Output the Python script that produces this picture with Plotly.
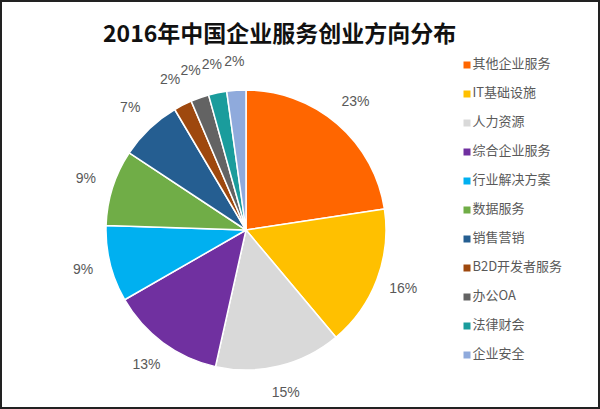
import plotly.graph_objects as go

labels = ["其他企业服务", "IT基础设施", "人力资源", "综合企业服务", "行业解决方案",
          "数据服务", "销售营销", "B2D开发者服务", "办公OA", "法律财会", "企业安全"]
values = [22.6, 16.3, 14.6, 13.2, 8.8, 8.8, 7.2, 2.1, 2.1, 2.1, 2.2]
colors = ["#FF6600", "#FFC000", "#D9D9D9", "#7030A0", "#00B0F0", "#70AD47",
          "#255E91", "#9E480E", "#636363", "#1A9C9C", "#8FAADC"]
title = "2016年中国企业服务创业方向分布"

total = sum(values)
mid_angles = []
cum = 0.0
for v in values:
    mid_angles.append((cum + v / 2) / total * 360)
    cum += v
pct_text = [f"{v / total * 100:.0f}%" for v in values]

# pie: centre (246, 230) px, radius 140 px
cx, cy, R = 246, 230, 140
pie_domain = dict(x=[(cx - R) / 600, (cx + R) / 600],
                  y=[(409 - cy - R) / 409, (409 - cy + R) / 409])
rmax = 1.25  # polar range so that r = 1 coincides with the pie edge
Rp = R * rmax
polar_domain = dict(x=[(cx - Rp) / 600, (cx + Rp) / 600],
                    y=[(409 - cy - Rp) / 409, (409 - cy + Rp) / 409])

fig = go.Figure()
fig.add_trace(go.Pie(
    labels=labels, values=values, sort=False, direction="clockwise", rotation=0,
    marker=dict(colors=colors, line=dict(color="white", width=1.5)),
    textinfo="none", domain=pie_domain,
    showlegend=False, hoverinfo="skip",
))
# data labels placed at each slice's mid-angle, just outside the pie
fig.add_trace(go.Scatterpolar(
    r=[1.2] * len(values), theta=mid_angles, mode="text", text=pct_text,
    textfont=dict(family="Liberation Sans, Arial", size=14, color="#595959"),
    showlegend=False, hoverinfo="skip", cliponaxis=False,
))
# legend drawn as a scatter on its own axes
fig.add_trace(go.Scatter(
    x=[0]*len(labels), y=labels, mode="markers+text",
    marker=dict(symbol="square", size=7, color=colors),
    text=labels, textposition="middle right",
    textfont=dict(family="Noto Sans CJK SC", size=13, color="#595959"),
    xaxis="x2", yaxis="y2", showlegend=False, hoverinfo="skip", cliponaxis=False,
))
fig.update_layout(
    width=600, height=409, margin=dict(l=0, r=0, t=0, b=0),
    paper_bgcolor="white", plot_bgcolor="white",
    polar=dict(domain=polar_domain, bgcolor="rgba(0,0,0,0)",
               angularaxis=dict(direction="clockwise", rotation=90, visible=False),
               radialaxis=dict(range=[0, rmax], visible=False)),
    xaxis2=dict(domain=[467/600, 1.0], range=[0, 1], visible=False, fixedrange=True),
    yaxis2=dict(domain=[54/409, 344/409], type="category", range=[10, 0],
                visible=False, fixedrange=True, anchor="x2"),
    annotations=[dict(text="<b>" + title + "</b>", x=279/600, y=1 - 32/409,
                      xref="paper", yref="paper", xanchor="center", yanchor="middle",
                      showarrow=False,
                      font=dict(family="Noto Sans CJK SC", size=23, color="#111111"))],
    shapes=[dict(type="rect", xref="paper", yref="paper", x0=0, x1=1, y0=0, y1=1,
                 line=dict(color="#222222", width=4))],
)
fig.write_html("out.html")
